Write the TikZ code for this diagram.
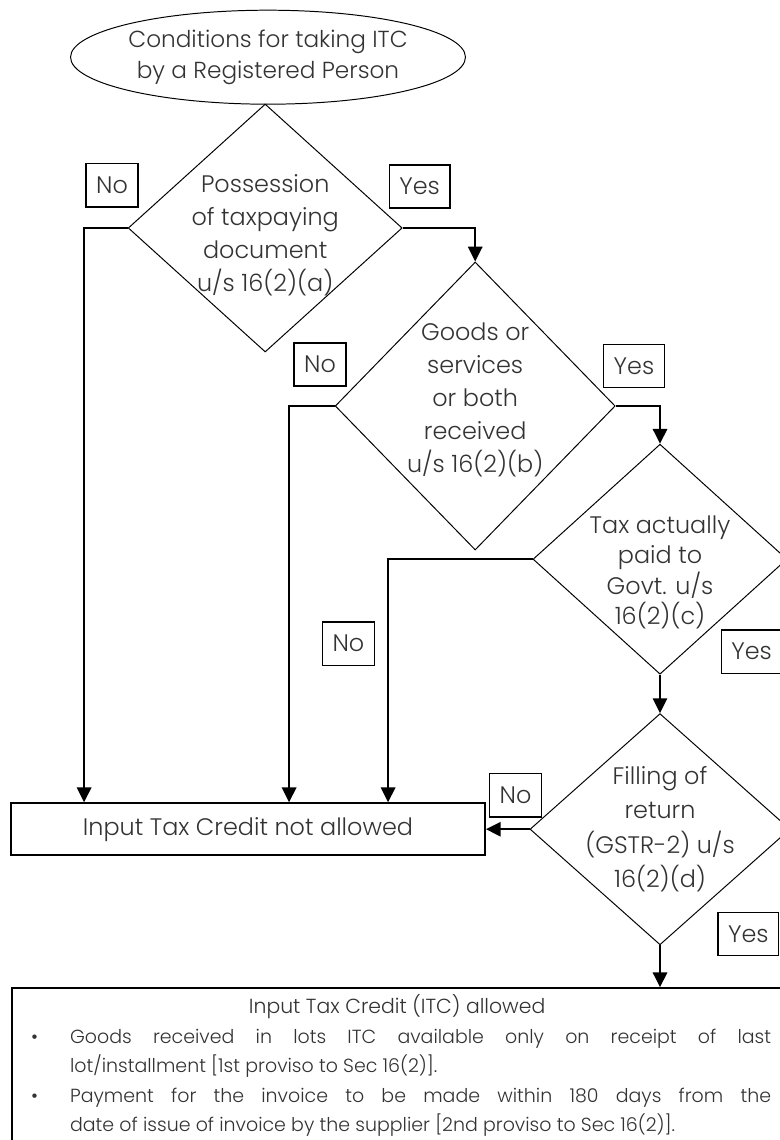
\documentclass[tikz,border=0pt]{standalone}
\usepackage{fontspec}
\setmainfont{Poppins}[UprightFont=* Light]
\usetikzlibrary{positioning,shapes.geometric,arrows.meta}
\newcommand{\itcbullet}{\par\noindent\hangindent=1.45cm\hangafter=1\hspace*{0.475cm}\makebox[0.975cm][l]{\textbullet}}

\begin{document}
\begin{tikzpicture}[
  cond/.style={draw,diamond,inner sep=0pt,line width=0.7pt},
  condtxt/.style={align=center,text=black!80,font=\fontsize{17}{23.5}\selectfont},
  tag/.style={draw,line width=1pt,minimum width=1.3cm,minimum height=1.08cm,inner xsep=0.25cm,text=black!80,font=\fontsize{17}{20}\selectfont},
  arr/.style={line width=1.3pt,-{Triangle[length=0.37cm,width=0.36cm]}},
  outbox/.style={draw,line width=1.3pt,inner sep=0pt,text=black!80}]
\useasboundingbox (0,0) rectangle (19.475,-28.5);
% start and the four conditions
\node[draw,ellipse,line width=0.7pt,minimum width=9.85cm,minimum height=2.35cm,inner sep=0pt,align=center,text=black!80,font=\fontsize{16.5}{22.5}\selectfont] (start) at (6.70,-1.43) {Conditions for taking ITC\\by a Registered Person};
\node[cond,minimum width=6.85cm,minimum height=6.20cm,label={[condtxt,yshift=-0.18cm]center:Possession\\of taxpaying\\document\\u/s 16(2)(a)}] (doc) at (6.63,-5.70) {};
\node[cond,minimum width=7.00cm,minimum height=7.20cm,label={[condtxt,yshift=0.15cm]center:Goods or\\services\\or both\\received\\u/s 16(2)(b)}] (rec) at (11.88,-10.15) {};
\node[cond,minimum width=6.35cm,minimum height=5.75cm,label={[condtxt,font=\fontsize{17}{21.5}\selectfont,yshift=-0.33cm]center:Tax actually\\paid to\\Govt. u/s\\16(2)(c)}] (tax) at (16.50,-13.98) {};
\node[cond,minimum width=6.50cm,minimum height=5.78cm,label={[condtxt,font=\fontsize{17}{24.5}\selectfont]center:Filling of\\return\\(GSTR-2) u/s\\16(2)(d)}] (ret) at (16.50,-20.73) {};
% results
\node[outbox,minimum width=11.85cm,minimum height=1.30cm,font=\fontsize{17}{20}\selectfont] (deny) at (6.20,-20.73) {Input Tax Credit not allowed};
\node[outbox,anchor=north west,text width=19.25cm,align=justify,inner ysep=0.16cm,font=\fontsize{13.5}{21}\selectfont] (allow) at (0.28,-24.68) {%
\noindent\makebox[19.25cm]{\fontsize{14.5}{21}\selectfont Input Tax Credit (ITC) allowed}\par\rightskip=0.275cm
\itcbullet Goods received in lots ITC available only on receipt of last\linebreak lot/installment [1st proviso to Sec 16(2)].
\itcbullet Payment for the invoice to be made within 180 days from the\linebreak date of issue of invoice by the supplier [2nd proviso to Sec 16(2)].\rule[-1cm]{0pt}{0pt}\par};
% yes / no tags
\node[tag] (nodoc) at (2.80,-4.63) {No};
\node[tag] (yesdoc) at (10.49,-4.66) {Yes};
\node[tag] (norec) at (8.00,-9.11) {No};
\node[tag] (yesrec) at (15.85,-9.15) {Yes};
\node[tag] (notax) at (8.71,-16.09) {No};
\node[tag] (yestax) at (18.79,-16.29) {Yes};
\node[tag] (noret) at (12.89,-19.88) {No};
\node[tag] (yesret) at (18.71,-23.35) {Yes};
% connectors
\draw[arr] (doc.east) -| (rec.north);
\draw[arr] (rec.east) -| (tax.north);
\draw[arr] (tax.south) -- (ret.north);
\draw[arr] (ret.south) -- (ret.south |- allow.north);
\draw[arr] (doc.west) -| ([xshift=1.85cm]deny.north west);
\draw[arr] (rec.west) -| ([xshift=6.975cm]deny.north west);
\draw[arr] (tax.west) -| ([xshift=9.45cm]deny.north west);
\draw[arr] (ret.west) -- (deny.east);
\end{tikzpicture}
\end{document}
